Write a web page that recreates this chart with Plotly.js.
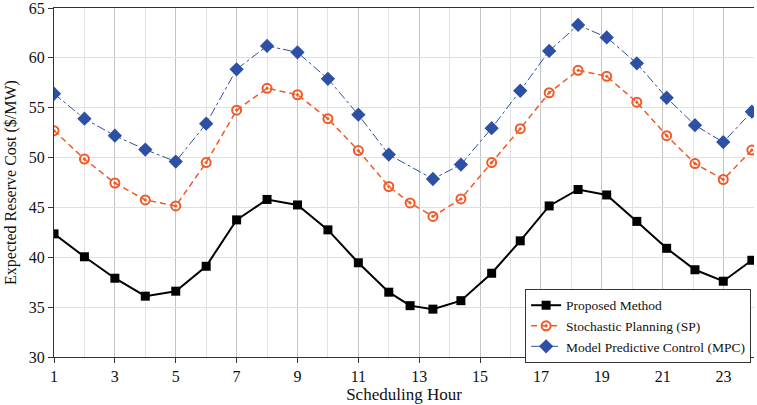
<!DOCTYPE html>
<html>
<head>
<meta charset="utf-8">
<script src="https://cdn.plot.ly/plotly-3.0.1.min.js"></script>
<style>html,body{margin:0;padding:0;background:#fff;}#chart{width:757px;height:405px;}</style>
</head>
<body>
<div id="chart"></div>
<script>
// Scheduling hours
var hoursFull = [1, 2, 3, 4, 5, 6, 7, 8, 9, 10, 11, 12, 12.7, 13.45, 14.37, 15.38, 16.32, 17.27, 18.22, 19.16, 20.15, 21.13, 22.06, 22.99, 23.93];
var hoursMPC  = [1, 2, 3, 4, 5, 6, 7, 8, 9, 10, 11, 12, 13.45, 14.37, 15.38, 16.32, 17.27, 18.22, 19.16, 20.15, 21.13, 22.06, 22.99, 23.93];

var proposed = [42.35, 40.05, 37.9, 36.1, 36.6, 39.1, 43.75, 45.8, 45.25, 42.75, 39.45, 36.5, 35.15, 34.8, 35.65, 38.4, 41.65, 45.15, 46.8, 46.25, 43.6, 40.9, 38.75, 37.6, 39.7];
var sp       = [52.7, 49.85, 47.45, 45.75, 45.15, 49.5, 54.75, 56.95, 56.3, 53.9, 50.7, 47.1, 45.45, 44.1, 45.85, 49.5, 52.9, 56.5, 58.75, 58.15, 55.55, 52.2, 49.4, 47.8, 50.75];
var mpc      = [56.4, 53.9, 52.2, 50.8, 49.6, 53.4, 58.85, 61.2, 60.55, 57.9, 54.3, 50.3, 47.85, 49.3, 52.95, 56.7, 60.7, 63.3, 62.05, 59.45, 56.0, 53.25, 51.55, 54.6];

var seriesNames = ['Proposed Method', 'Stochastic Planning (SP)', 'Model Predictive Control (MPC)'];
var xTitle = 'Scheduling Hour';
var yTitle = 'Expected Reserve Cost ($/MW)';

var serif = '"Times New Roman", "Liberation Serif", "DejaVu Serif", serif';

var traces = [
  {
    x: hoursFull, y: proposed, name: seriesNames[0], type: 'scatter', mode: 'lines+markers',
    line: {color: '#000000', width: 2},
    marker: {symbol: 'square', size: 9, color: '#000000'}
  },
  {
    x: hoursFull, y: sp, name: seriesNames[1], type: 'scatter', mode: 'lines+markers',
    line: {color: '#f05a28', width: 1.5, dash: '6px,4px'},
    marker: {symbol: 'circle-open-dot', size: 9, color: '#f05a28', line: {width: 2, color: '#f05a28'}}
  },
  {
    x: hoursMPC, y: mpc, name: seriesNames[2], type: 'scatter', mode: 'lines+markers',
    line: {color: '#2d50a5', width: 1, dash: 'dashdot'},
    marker: {symbol: 'diamond', size: 11, color: '#2d50a5'}
  }
];

var layout = {
  width: 757, height: 405,
  margin: {l: 54, r: 3, t: 8, b: 48},
  paper_bgcolor: '#ffffff', plot_bgcolor: '#ffffff',
  font: {family: serif, size: 15, color: '#111'},
  showlegend: true,
  legend: {
    x: 0.673, y: 0.195, xanchor: 'left', yanchor: 'top',
    bgcolor: '#ffffff', bordercolor: '#333', borderwidth: 1,
    font: {family: serif, size: 13.5, color: '#111'},
    tracegroupgap: 0, itemwidth: 30
  },
  xaxis: {
    range: [1, 24], tick0: 1, dtick: 2,
    showgrid: true, gridcolor: '#c4c4c4', gridwidth: 1,
    minor: {dtick: 1, showgrid: true, gridcolor: '#e2e2e2', gridwidth: 1},
    ticks: 'outside', ticklen: 5, tickcolor: '#333',
    showline: true, linecolor: '#333', linewidth: 1, mirror: true,
    zeroline: false, ticklabeloverflow: 'allow',
    tickfont: {family: serif, size: 16, color: '#111'},
    title: {text: xTitle, font: {family: serif, size: 17, color: '#111'}, standoff: 3}
  },
  yaxis: {
    range: [30, 65], tick0: 30, dtick: 5,
    showgrid: true, gridcolor: '#e0e0e0', gridwidth: 1,
    ticks: 'outside', ticklen: 5, tickcolor: '#333',
    showline: true, linecolor: '#333', linewidth: 1,
    zeroline: false, ticklabeloverflow: 'allow',
    tickfont: {family: serif, size: 16, color: '#111'},
    title: {text: yTitle, font: {family: serif, size: 16, color: '#111'}, standoff: 8}
  }
};

Plotly.newPlot('chart', traces, layout, {displayModeBar: false, staticPlot: true});
</script>
</body>
</html>
